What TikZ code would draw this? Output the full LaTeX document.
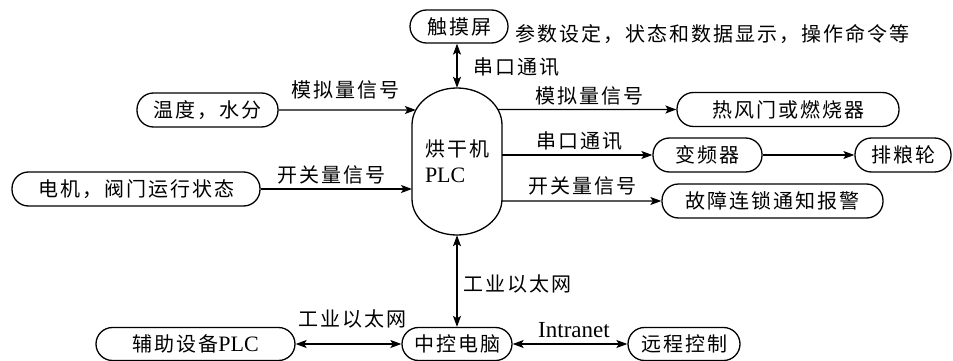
\documentclass[tikz,border=0pt]{standalone}
\usepackage{fontspec}
\setmainfont{Liberation Serif}
\newfontfamily\cjk[LetterSpace=10]{Noto Sans CJK SC}
\usetikzlibrary{arrows.meta,intersections}
\begin{document}
\begin{tikzpicture}[x=1pt,y=-1pt,
  >={Stealth[length=11pt,width=8pt,inset=2.5pt]},
  txt/.style={font=\fontsize{20}{25}\selectfont\cjk, inner sep=0pt},
  box/.style={txt, draw, line width=1.3pt, rounded corners=16.5pt, minimum height=34pt},
  conn/.style={line width=1.3pt},
  latin/.style={font=\fontsize{23}{25}\selectfont\rmfamily, inner sep=0pt}]
\useasboundingbox (0,0) rectangle (953,361);

% nodes
\node[box, minimum width=98pt, minimum height=33pt] (touch) at (459,26.5) {触摸屏};
\node[txt, anchor=west] (note) at (515,34) {参数设定，状态和数据显示，操作命令等};
\node[txt, minimum width=90pt, minimum height=147pt, align=left] (plc) at (457,161.5)
  {烘干机\\[1pt]{\rmfamily\fontsize{22}{25}\selectfont PLC}};
\draw[conn, name path=plcb] (412,125) -- (412,199)
  arc[start angle=180,end angle=0,x radius=45,y radius=36] -- (502,125)
  arc[start angle=0,end angle=-180,x radius=45,y radius=37] -- cycle;

\node[box, minimum width=141pt] (temp) at (207.5,110) {温度，水分};
\node[box, minimum width=248pt] (motor) at (136,189) {电机，阀门运行状态};
\node[box, minimum width=222pt] (hot) at (788,109.5) {热风门或燃烧器};
\node[box, minimum width=109pt] (vfd) at (707.5,155) {变频器};
\node[box, minimum width=96pt] (pai) at (903,155) {排粮轮};
\node[box, minimum width=221pt] (fault) at (772.5,201) {故障连锁通知报警};
\node[box, minimum width=110pt, minimum height=33pt] (zk) at (457,344) {中控电脑};
\node[box, minimum width=199pt, minimum height=33pt] (aux) at (195.5,344)
  {辅助设备{\rmfamily\fontsize{22}{25}\selectfont PLC}};
\node[box, minimum width=112pt, minimum height=33pt] (remote) at (684,344) {远程控制};

% labels
\node[txt] (l1) at (345,90) {模拟量信号};
\node[txt] (l2) at (331,175) {开关量信号};
\node[txt] (l3) at (589,96) {模拟量信号};
\node[txt] (l4) at (579.5,141.5) {串口通讯};
\node[txt] (l5) at (582.5,186) {开关量信号};
\node[txt] (l6) at (516.5,67.5) {串口通讯};
\node[txt] (l7) at (517.5,283.5) {工业以太网};
\node[txt] (l8) at (352,318.5) {工业以太网};
\node[latin] (l9) at (574,330) {Intranet};

% connectors into PLC
\path[name path=a1] (temp.east) -- (temp.east -| plc.center);
\draw[conn,->, name intersections={of=a1 and plcb}] (temp.east) -- (intersection-1);
\path[name path=a2] (motor.east) -- (motor.east -| plc.center);
\draw[conn,->, name intersections={of=a2 and plcb}] (motor.east) -- (intersection-1);

% connectors out of PLC
\path[name path=b1] (hot.west) -- (hot.west -| plc.center);
\draw[conn,->, name intersections={of=b1 and plcb}] (intersection-1) -- (hot.west);
\path[name path=b2] (vfd.west) -- (vfd.west -| plc.center);
\draw[conn,->, name intersections={of=b2 and plcb}] (intersection-1) -- (vfd.west);
\path[name path=b3] (fault.west) -- (fault.west -| plc.center);
\draw[conn,->, name intersections={of=b3 and plcb}] (intersection-1) -- (fault.west);

\draw[conn,->] (vfd.east) -- (pai.west);
\draw[conn,<->] (plc.north |- touch.south) -- (plc.north);
\draw[conn,<->] (plc.south) -- (plc.south |- zk.north);
\draw[conn,<->] (aux.east) -- (zk.west);
\draw[conn,<->] (zk.east) -- (remote.west);
\end{tikzpicture}
\end{document}
